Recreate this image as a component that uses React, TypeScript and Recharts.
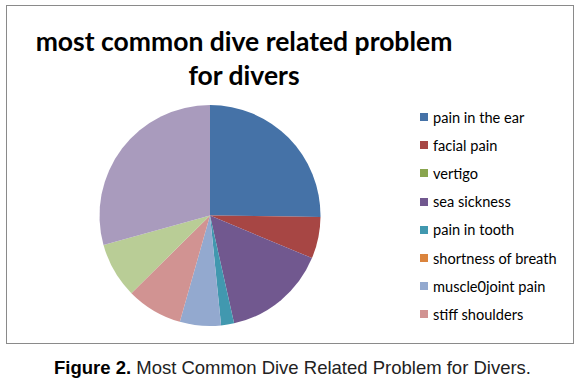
import { PieChart, Pie, Cell } from 'recharts';

// categories in data order (Excel-style: the last two are not in the legend)
const categories = [
  'pain in the ear',
  'facial pain',
  'vertigo',
  'sea sickness',
  'pain in tooth',
  'shortness of breath',
  'muscle0joint pain',
  'stiff shoulders',
  'other 1',
  'other 2',
];
const shares = [25.2, 6.1, 0, 15.2, 1.9, 0, 6.0, 8.2, 8.1, 29.3];
const colors = [
  '#4572a7', '#a74644', '#89a54e', '#71588f', '#4198af',
  '#db843d', '#93a9cf', '#d19392', '#b9cd96', '#a99bbd',
];
const legendCount = 8;

const data = categories.map((name, i) => ({ name, value: shares[i], fill: colors[i] }));

const font = 'Lato, "Open Sans", sans-serif';

export default function App() {
  return (
    <div style={{ position: 'absolute', left: 0, top: 0, width: 585, height: 391, background: '#fff' }}>
      <div
        style={{
          position: 'absolute',
          left: 6,
          top: 5,
          width: 566,
          height: 337,
          border: '1.5px solid #8a8a8a',
        }}
      />
      <div
        style={{
          position: 'absolute',
          left: 0,
          top: 24,
          width: 488,
          textAlign: 'center',
          fontFamily: font,
          fontWeight: 700,
          fontSize: 26.5,
          lineHeight: '34px',
          color: '#000',
        }}
      >
        most common dive related problem
        <br />
        for divers
      </div>
      <div style={{ position: 'absolute', left: 0, top: 0 }}>
        <PieChart width={585} height={391} margin={{ top: 0, right: 0, bottom: 0, left: 0 }}>
          <Pie
            data={data}
            dataKey="value"
            nameKey="name"
            cx={210}
            cy={215.5}
            outerRadius={110.5}
            startAngle={90}
            endAngle={-270}
            stroke="none"
            isAnimationActive={false}
          >
            {data.map((d) => (
              <Cell key={`cell-${d.name}`} fill={d.fill} />
            ))}
          </Pie>
        </PieChart>
      </div>
      {data.slice(0, legendCount).map((d, i) => (
        <div
          key={`leg-${d.name}`}
          style={{
            position: 'absolute',
            left: 420,
            top: 108 + i * 28.2,
            height: 18,
            display: 'flex',
            alignItems: 'center',
            fontFamily: font,
            fontSize: 14.6,
            color: '#000',
            whiteSpace: 'nowrap',
          }}
        >
          <span style={{ display: 'inline-block', width: 8, height: 8, background: d.fill, marginRight: 5 }} />
          {d.name}
        </div>
      ))}
      <div
        style={{
          position: 'absolute',
          left: 0,
          top: 357,
          width: 585,
          textAlign: 'center',
          fontFamily: '"Liberation Sans", Arial, sans-serif',
          fontSize: 18.5,
          color: '#222',
        }}
      >
        <b style={{ color: '#000' }}>Figure 2.</b> Most Common Dive Related Problem for Divers.
      </div>
    </div>
  );
}
